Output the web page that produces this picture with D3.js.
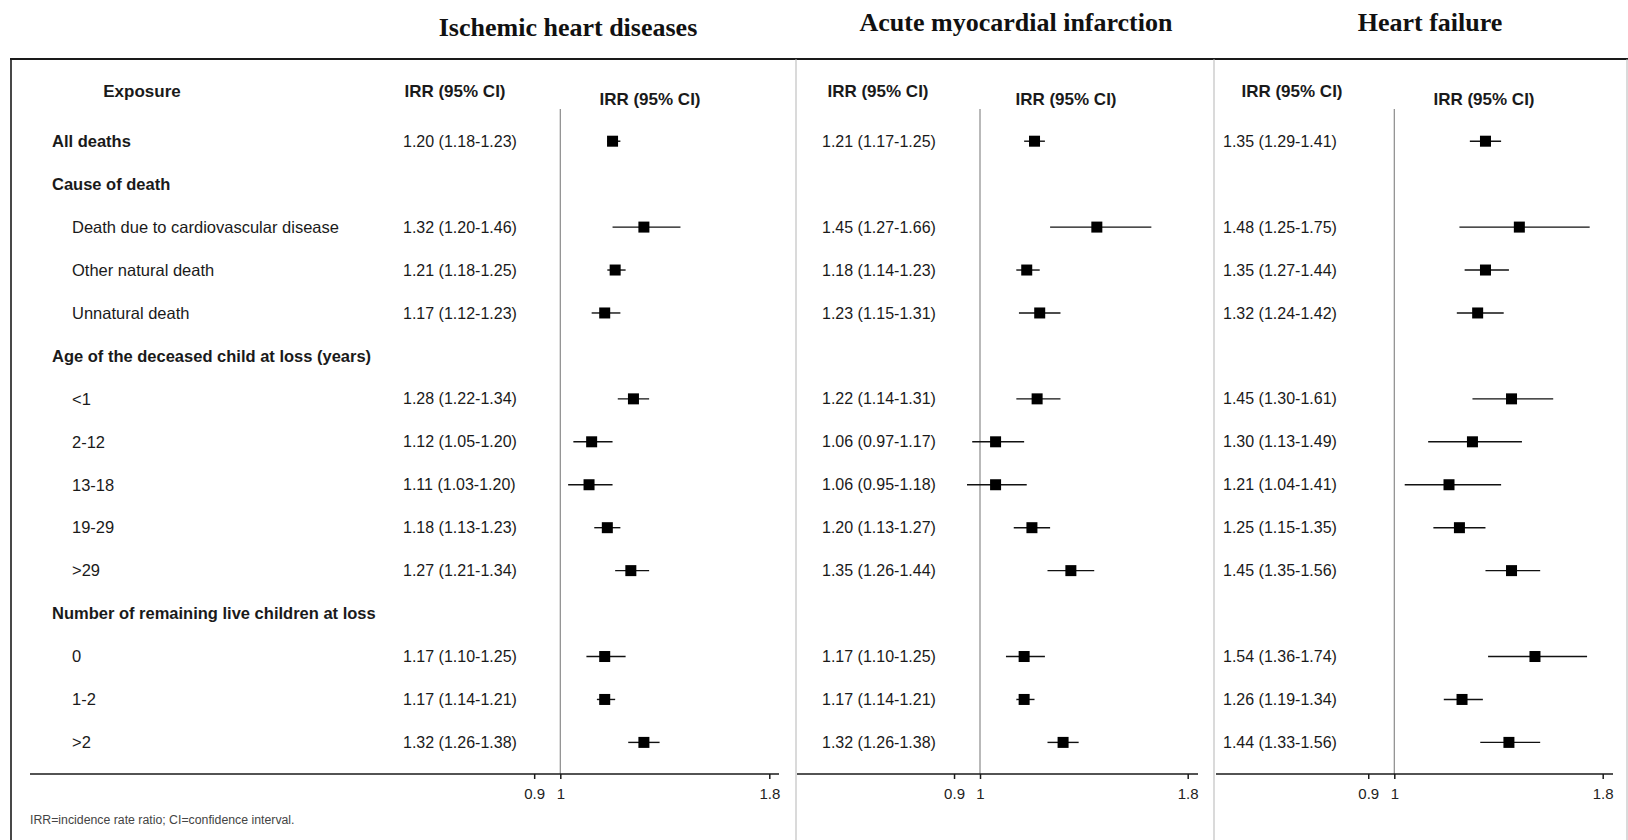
<!DOCTYPE html>
<html>
<head>
<meta charset="utf-8">
<script src="https://cdn.jsdelivr.net/npm/d3@7/dist/d3.min.js"></script>
<style>
    body { margin: 0; background: #fff; }
    svg { display: block; }
</style>
</head>
<body>
<div id="chart"></div>
<script>
const WIDTH = 1628
const HEIGHT = 840

// rows of the table, headings are drawn bold and have no estimate
const exposures = [
    "All deaths",
    "Cause of death",
    "Death due to cardiovascular disease",
    "Other natural death",
    "Unnatural death",
    "Age of the deceased child at loss (years)",
    "<1",
    "2-12",
    "13-18",
    "19-29",
    ">29",
    "Number of remaining live children at loss",
    "0",
    "1-2",
    ">2"
]
const headingRows = [0, 1, 5, 11]

const outcomes = ["Ischemic heart diseases", "Acute myocardial infarction", "Heart failure"]

// [IRR, lower, upper], null for heading rows
const ihd = [
    [1.20, 1.18, 1.23], null,
    [1.32, 1.20, 1.46], [1.21, 1.18, 1.25], [1.17, 1.12, 1.23], null,
    [1.28, 1.22, 1.34], [1.12, 1.05, 1.20], [1.11, 1.03, 1.20], [1.18, 1.13, 1.23], [1.27, 1.21, 1.34], null,
    [1.17, 1.10, 1.25], [1.17, 1.14, 1.21], [1.32, 1.26, 1.38]
]
const ami = [
    [1.21, 1.17, 1.25], null,
    [1.45, 1.27, 1.66], [1.18, 1.14, 1.23], [1.23, 1.15, 1.31], null,
    [1.22, 1.14, 1.31], [1.06, 0.97, 1.17], [1.06, 0.95, 1.18], [1.20, 1.13, 1.27], [1.35, 1.26, 1.44], null,
    [1.17, 1.10, 1.25], [1.17, 1.14, 1.21], [1.32, 1.26, 1.38]
]
const hf = [
    [1.35, 1.29, 1.41], null,
    [1.48, 1.25, 1.75], [1.35, 1.27, 1.44], [1.32, 1.24, 1.42], null,
    [1.45, 1.30, 1.61], [1.30, 1.13, 1.49], [1.21, 1.04, 1.41], [1.25, 1.15, 1.35], [1.45, 1.35, 1.56], null,
    [1.54, 1.36, 1.74], [1.26, 1.19, 1.34], [1.44, 1.33, 1.56]
]
const tickValues = [0.9, 1, 1.8]
const footnote = "IRR=incidence rate ratio; CI=confidence interval."

// layout of the three panels
const PANELS = [
    { data: ihd, left: 11, axisFrom: 30, axisTo: 779, one: 560.3, max: 769.3, textX: 403, head1: 455, head2: 650, titleX: 568, titleY: 36 },
    { data: ami, left: 796, axisFrom: 797, axisTo: 1198, one: 980, max: 1187.7, textX: 822, head1: 878, head2: 1066, titleX: 1016, titleY: 31 },
    { data: hf, left: 1214, axisFrom: 1216, axisTo: 1613, one: 1394.3, max: 1602.7, textX: 1223, head1: 1292, head2: 1484, titleX: 1430, titleY: 31 }
]

const FRAME_TOP = 59
const AXIS_Y = 774
const REF_TOP = 109

const SANS = "Arial, 'Liberation Sans', sans-serif"
const SERIF = "'Times New Roman', 'Liberation Serif', serif"
const HEAD_SIZE = 17
const ROW_SIZE = 16.5
const NUM_SIZE = 16

const svg = d3.select("#chart")
    .append("svg")
    .attr("width", WIDTH)
    .attr("height", HEIGHT)

const y = d3.scalePoint()
    .domain(d3.range(exposures.length))
    .range([141.2, 742.4])

const fmt = d3.format(".2f")
const ciText = d => `${fmt(d[0])} (${fmt(d[1])}-${fmt(d[2])})`

// frame
svg.append("line")
    .attr("x1", 10).attr("x2", WIDTH)
    .attr("y1", FRAME_TOP).attr("y2", FRAME_TOP)
    .attr("stroke", "#1a1a1a").attr("stroke-width", 2)

svg.append("line")
    .attr("x1", 11).attr("x2", 11)
    .attr("y1", FRAME_TOP).attr("y2", HEIGHT)
    .attr("stroke", "#1a1a1a").attr("stroke-width", 1.6)

svg.selectAll(".divider")
    .data(PANELS.slice(1).map(p => p.left).concat([1627]))
    .join("line")
    .attr("class", "divider")
    .attr("x1", d => d).attr("x2", d => d)
    .attr("y1", FRAME_TOP).attr("y2", HEIGHT)
    .attr("stroke", "#b5b5b5").attr("stroke-width", 1)

// exposure column
const labels = svg.append("g")
    .attr("font-family", SANS)
    .attr("font-size", ROW_SIZE)
    .attr("fill", "#1a1a1a")

labels.append("text")
    .attr("x", 142).attr("y", 91.5).attr("dy", "0.35em")
    .attr("text-anchor", "middle")
    .attr("font-weight", "bold")
    .attr("font-size", HEAD_SIZE)
    .text("Exposure")

labels.selectAll(".row")
    .data(exposures)
    .join("text")
    .attr("class", "row")
    .attr("x", (d, i) => headingRows.includes(i) ? 52 : 72)
    .attr("y", (d, i) => y(i))
    .attr("dy", "0.35em")
    .attr("font-weight", (d, i) => headingRows.includes(i) ? "bold" : "normal")
    .text(d => d)

labels.append("text")
    .attr("x", 30).attr("y", 820).attr("dy", "0.35em")
    .attr("font-size", 12.3)
    .attr("fill", "#444")
    .text(footnote)

PANELS.forEach((p, k) => {
    const x = d3.scaleLinear()
        .domain([1, 1.8])
        .range([p.one, p.max])

    const g = svg.append("g")

    g.append("text")
        .attr("x", p.titleX).attr("y", p.titleY)
        .attr("text-anchor", "middle")
        .attr("font-family", SERIF)
        .attr("font-weight", "bold")
        .attr("font-size", 26)
        .attr("fill", "#111")
        .text(outcomes[k])

    g.append("text")
        .attr("x", p.head1).attr("y", 91.5).attr("dy", "0.35em")
        .attr("text-anchor", "middle")
        .attr("font-family", SANS).attr("font-weight", "bold").attr("font-size", HEAD_SIZE)
        .attr("fill", "#1a1a1a")
        .text("IRR (95% CI)")

    g.append("text")
        .attr("x", p.head2).attr("y", 98.6).attr("dy", "0.35em")
        .attr("text-anchor", "middle")
        .attr("font-family", SANS).attr("font-weight", "bold").attr("font-size", HEAD_SIZE)
        .attr("fill", "#1a1a1a")
        .text("IRR (95% CI)")

    const rows = p.data.map((d, i) => ({ d, i })).filter(r => r.d)

    g.append("g")
        .attr("font-family", SANS)
        .attr("font-size", NUM_SIZE)
        .attr("fill", "#1a1a1a")
        .selectAll("text")
        .data(rows)
        .join("text")
        .attr("x", p.textX)
        .attr("y", r => y(r.i))
        .attr("dy", "0.35em")
        .text(r => ciText(r.d))

    // line of no effect
    g.append("line")
        .attr("x1", x(1)).attr("x2", x(1))
        .attr("y1", REF_TOP).attr("y2", AXIS_Y)
        .attr("stroke", "#8a8a8a").attr("stroke-width", 1.2)

    // axis baseline across the panel, ticks from the scale
    g.append("line")
        .attr("x1", p.axisFrom).attr("x2", p.axisTo)
        .attr("y1", AXIS_Y).attr("y2", AXIS_Y)
        .attr("stroke", "#1a1a1a").attr("stroke-width", 1.5)

    const axis = g.append("g")
        .attr("transform", `translate(0, ${AXIS_Y})`)
        .call(d3.axisBottom(x).tickValues(tickValues).tickFormat(d3.format("")).tickSize(5).tickSizeOuter(0))

    axis.select(".domain").remove()
    axis.selectAll(".tick line").attr("stroke", "#1a1a1a").attr("stroke-width", 1.5)
    axis.selectAll(".tick text")
        .attr("font-family", SANS)
        .attr("font-size", 15)
        .attr("fill", "#222")
        .attr("y", 14)

    // confidence intervals and point estimates
    g.append("g")
        .selectAll("line")
        .data(rows)
        .join("line")
        .attr("x1", r => x(r.d[1])).attr("x2", r => x(r.d[2]))
        .attr("y1", r => y(r.i)).attr("y2", r => y(r.i))
        .attr("stroke", "#111").attr("stroke-width", 1.4)

    g.append("g")
        .selectAll("rect")
        .data(rows)
        .join("rect")
        .attr("x", r => x(r.d[0]) - 5.5)
        .attr("y", r => y(r.i) - 5.5)
        .attr("width", 11)
        .attr("height", 11)
        .attr("fill", "#000")
})
</script>
</body>
</html>
